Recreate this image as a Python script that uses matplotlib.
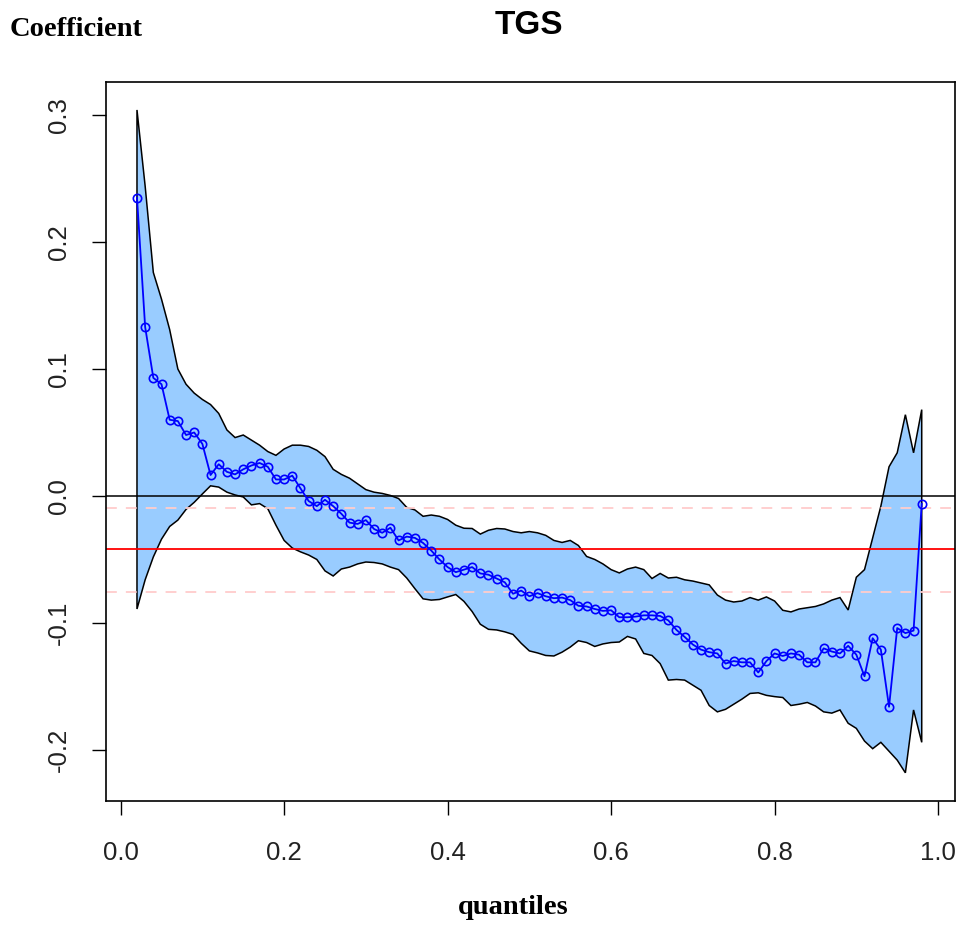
import matplotlib
matplotlib.use("Agg")
import matplotlib.pyplot as plt
import numpy as np

# ---- data ----
taus = [0.02, 0.03, 0.04, 0.05, 0.06, 0.07, 0.08, 0.09, 0.10, 0.11,
        0.12, 0.13, 0.14, 0.15, 0.16, 0.17, 0.18, 0.19, 0.20, 0.21,
        0.22, 0.23, 0.24, 0.25, 0.26, 0.27, 0.28, 0.29, 0.30, 0.31,
        0.32, 0.33, 0.34, 0.35, 0.36, 0.37, 0.38, 0.39, 0.40, 0.41,
        0.42, 0.43, 0.44, 0.45, 0.46, 0.47, 0.48, 0.49, 0.50, 0.51,
        0.52, 0.53, 0.54, 0.55, 0.56, 0.57, 0.58, 0.59, 0.60, 0.61,
        0.62, 0.63, 0.64, 0.65, 0.66, 0.67, 0.68, 0.69, 0.70, 0.71,
        0.72, 0.73, 0.74, 0.75, 0.76, 0.77, 0.78, 0.79, 0.80, 0.81,
        0.82, 0.83, 0.84, 0.85, 0.86, 0.87, 0.88, 0.89, 0.90, 0.91,
        0.92, 0.93, 0.94, 0.95, 0.96, 0.97, 0.98]

coef = [0.235, 0.133, 0.093, 0.088, 0.060, 0.059, 0.048, 0.050, 0.041, 0.0165,
        0.025, 0.019, 0.017, 0.021, 0.024, 0.026, 0.023, 0.013, 0.013, 0.016,
        0.006, -0.004, -0.008, -0.003, -0.008, -0.014, -0.021, -0.022, -0.019, -0.026,
        -0.029, -0.025, -0.035, -0.032, -0.033, -0.037, -0.043, -0.050, -0.056, -0.060,
        -0.058, -0.056, -0.061, -0.062, -0.065, -0.068, -0.077, -0.0745, -0.079, -0.0765,
        -0.079, -0.0805, -0.080, -0.082, -0.0865, -0.087, -0.089, -0.0905, -0.090, -0.0955,
        -0.0955, -0.095, -0.094, -0.094, -0.0945, -0.098, -0.1055, -0.111, -0.117, -0.121,
        -0.123, -0.124, -0.132, -0.130, -0.131, -0.131, -0.139, -0.130, -0.124, -0.126,
        -0.124, -0.125, -0.131, -0.131, -0.120, -0.1225, -0.124, -0.118, -0.125, -0.142,
        -0.112, -0.121, -0.166, -0.104, -0.108, -0.106, -0.006]

upper = [0.304, 0.244, 0.176, 0.155, 0.131, 0.100, 0.088, 0.081, 0.076, 0.072,
         0.065, 0.052, 0.046, 0.048, 0.044, 0.040, 0.035, 0.032, 0.037, 0.040,
         0.040, 0.039, 0.036, 0.031, 0.021, 0.017, 0.014, 0.0095, 0.005, 0.003,
         0.002, 0.0004, -0.002, -0.009, -0.011, -0.016, -0.015, -0.016, -0.0185, -0.023,
         -0.0254, -0.0256, -0.030, -0.027, -0.0256, -0.026, -0.028, -0.029, -0.028, -0.029,
         -0.031, -0.035, -0.0366, -0.035, -0.039, -0.0476, -0.050, -0.0535, -0.058, -0.0606,
         -0.0575, -0.056, -0.058, -0.065, -0.061, -0.0646, -0.064, -0.066, -0.067, -0.0685,
         -0.070, -0.078, -0.082, -0.0835, -0.0827, -0.080, -0.082, -0.0795, -0.0827, -0.090,
         -0.0913, -0.089, -0.088, -0.087, -0.085, -0.082, -0.080, -0.0898, -0.064, -0.058,
         -0.033, -0.008, 0.023, 0.034, 0.064, 0.034, 0.068]

lower = [-0.089, -0.066, -0.048, -0.034, -0.024, -0.019, -0.0106, -0.005, 0.0016, 0.008,
         0.007, 0.003, 0.0008, -0.0008, -0.007, -0.006, -0.010, -0.023, -0.035, -0.041,
         -0.044, -0.0465, -0.050, -0.059, -0.063, -0.0575, -0.056, -0.0535, -0.052, -0.0524,
         -0.0535, -0.056, -0.058, -0.0646, -0.073, -0.081, -0.082, -0.0815, -0.0795, -0.0776,
         -0.083, -0.091, -0.101, -0.105, -0.1055, -0.107, -0.109, -0.116, -0.122, -0.1236,
         -0.1256, -0.126, -0.123, -0.119, -0.114, -0.1154, -0.1185, -0.1165, -0.1154, -0.115,
         -0.1106, -0.1126, -0.124, -0.1256, -0.132, -0.145, -0.1445, -0.145, -0.149, -0.153,
         -0.165, -0.170, -0.168, -0.164, -0.160, -0.1555, -0.155, -0.157, -0.158, -0.1587,
         -0.165, -0.164, -0.1626, -0.1654, -0.170, -0.171, -0.1685, -0.179, -0.183, -0.193,
         -0.199, -0.194, -0.201, -0.208, -0.218, -0.1685, -0.194]

ols_coef = -0.0417
ols_ci = [-0.0756, -0.0094]

xticks = [0.0, 0.2, 0.4, 0.6, 0.8, 1.0]
xtick_labels = ["0.0", "0.2", "0.4", "0.6", "0.8", "1.0"]
yticks = [-0.2, -0.1, 0.0, 0.1, 0.2, 0.3]
ytick_labels = ["-0.2", "-0.1", "0.0", "0.1", "0.2", "0.3"]

title = "TGS"
ylabel_text = "Coefficient"
xlabel_text = "quantiles"

# ---- figure ----
fig = plt.figure(figsize=(9.6, 9.27), dpi=100)
ax = fig.add_axes([106 / 960, 1 - 801 / 927, (955 - 106) / 960, (801 - 82) / 927])

# confidence band polygon
poly_x = list(taus) + list(taus[::-1])
poly_y = list(lower) + list(upper[::-1])
ax.fill(poly_x, poly_y, facecolor="#99CCFF", edgecolor="black", linewidth=1.1, zorder=1)

# reference lines
ax.axhline(0.0, color="black", linewidth=1.1, zorder=2)
ax.axhline(ols_coef, color="#FF0000", linewidth=1.3, zorder=2)
for v in ols_ci:
    ax.axhline(v, color="#FFCCCC", linewidth=1.3, linestyle=(0, (6, 5)), zorder=2)

# quantile coefficient line
ax.plot(taus, coef, color="#0000FF", linewidth=1.3, marker="o", markersize=6,
        markerfacecolor="none", markeredgecolor="#0000FF", markeredgewidth=1.2, zorder=3)

ax.set_xlim(-0.0179, 1.0207)
ax.set_ylim(-0.2402, 0.326)

ax.set_xticks(xticks)
ax.set_xticklabels(xtick_labels)
ax.set_yticks(yticks)
ax.set_yticklabels(ytick_labels)

for lbl in ax.get_xticklabels():
    lbl.set_fontfamily("Liberation Sans")
    lbl.set_fontsize(18.5)
for lbl in ax.get_yticklabels():
    lbl.set_fontfamily("Liberation Sans")
    lbl.set_fontsize(18.5)
    lbl.set_rotation(90)
    lbl.set_va("center")

ax.tick_params(axis="x", direction="out", length=10, width=1.0, pad=19, colors="black",
               labelcolor="#222222")
ax.tick_params(axis="y", direction="out", length=10, width=1.0, pad=15, colors="black",
               labelcolor="#222222")

for sp in ax.spines.values():
    sp.set_linewidth(1.2)
    sp.set_color("black")

fig.text(529 / 960, 1 - 25 / 927, title, ha="center", va="center",
         fontfamily="Liberation Sans", fontweight="bold", fontsize=24)
fig.text(10 / 960, 1 - 29 / 927, ylabel_text, ha="left", va="center",
         fontfamily="Liberation Serif", fontweight="bold", fontsize=20.5)
fig.text(513 / 960, 1 - 907 / 927, xlabel_text, ha="center", va="center",
         fontfamily="Liberation Serif", fontweight="bold", fontsize=20.5)

fig.savefig("out.png", dpi=100)
